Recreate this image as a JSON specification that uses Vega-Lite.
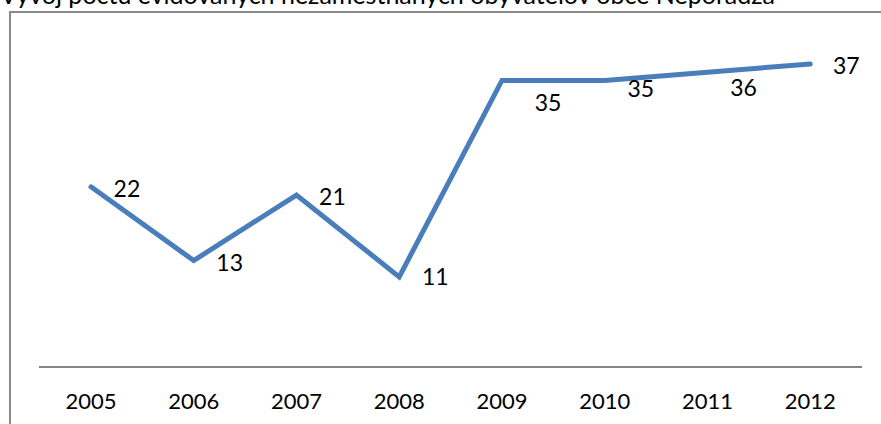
{
  "$schema": "https://vega.github.io/schema/vega-lite/v6.json",
  "autosize": "none",
  "width": 871,
  "height": 412,
  "padding": {"left": 10, "top": 12, "right": 0, "bottom": 0},
  "background": "white",
  "config": {
    "view": {"stroke": "#898989", "strokeWidth": 2, "strokeDash": [871, 1283, 412]},
    "font": "Lato"
  },
  "title": {
    "text": "Vývoj počtu evidovaných nezamestnaných obyvateľov obce Neporadza",
    "anchor": "start",
    "frame": "group",
    "dx": -10,
    "dy": 16,
    "offset": -1,
    "baseline": "alphabetic",
    "fontSize": 25,
    "fontWeight": "normal",
    "font": "Lato",
    "color": "black"
  },
  "data": {
    "values": [
      {"year": "2005", "value": 22},
      {"year": "2006", "value": 13},
      {"year": "2007", "value": 21},
      {"year": "2008", "value": 11},
      {"year": "2009", "value": 35},
      {"year": "2010", "value": 35},
      {"year": "2011", "value": 36},
      {"year": "2012", "value": 37}
    ]
  },
  "resolve": {"scale": {"x": "shared", "y": "shared"}},
  "layer": [
    {
      "mark": {"type": "rule", "color": "#868686", "strokeWidth": 2},
      "encoding": {
        "x": {"datum": "2005", "type": "ordinal", "bandPosition": 0,
          "scale": {"type": "band", "paddingInner": 0, "paddingOuter": 0.2384, "align": 0.604, "domain": ["2005","2006","2007","2008","2009","2010","2011","2012"]},
          "axis": {"orient": "bottom", "domain": false, "ticks": false, "tickSize": 0, "labelPadding": 0, "offset": -16, "labelBaseline": "alphabetic", "labelFontSize": 22, "labelFont": "Lato", "labelColor": "black", "labelAngle": 0, "title": null, "grid": false}},
        "x2": {"datum": "2012", "bandPosition": 1},
        "y": {"datum": 0, "type": "quantitative",
          "scale": {"domain": [-6.96, 43.35], "nice": false, "zero": false}, "axis": null}
      }
    },
    {
      "mark": {"type": "line", "color": "#4A7EBB", "strokeWidth": 5, "strokeCap": "round"},
      "encoding": {
        "x": {"field": "year", "type": "ordinal"},
        "y": {"field": "value", "type": "quantitative"}
      }
    },
    {
      "mark": {
        "type": "text", "fontSize": 23, "font": "Lato", "color": "black", "align": "center", "baseline": "middle",
        "dx": {"expr": "datum.year == '2009' ? 46 : 36"},
        "dy": {"expr": "datum.year == '2009' ? 24 : datum.year == '2010' ? 10 : datum.year == '2011' ? 17 : datum.year == '2008' ? 1 : 3"}
      },
      "encoding": {
        "x": {"field": "year", "type": "ordinal"},
        "y": {"field": "value", "type": "quantitative"},
        "text": {"field": "value", "type": "quantitative"}
      }
    }
  ]
}
